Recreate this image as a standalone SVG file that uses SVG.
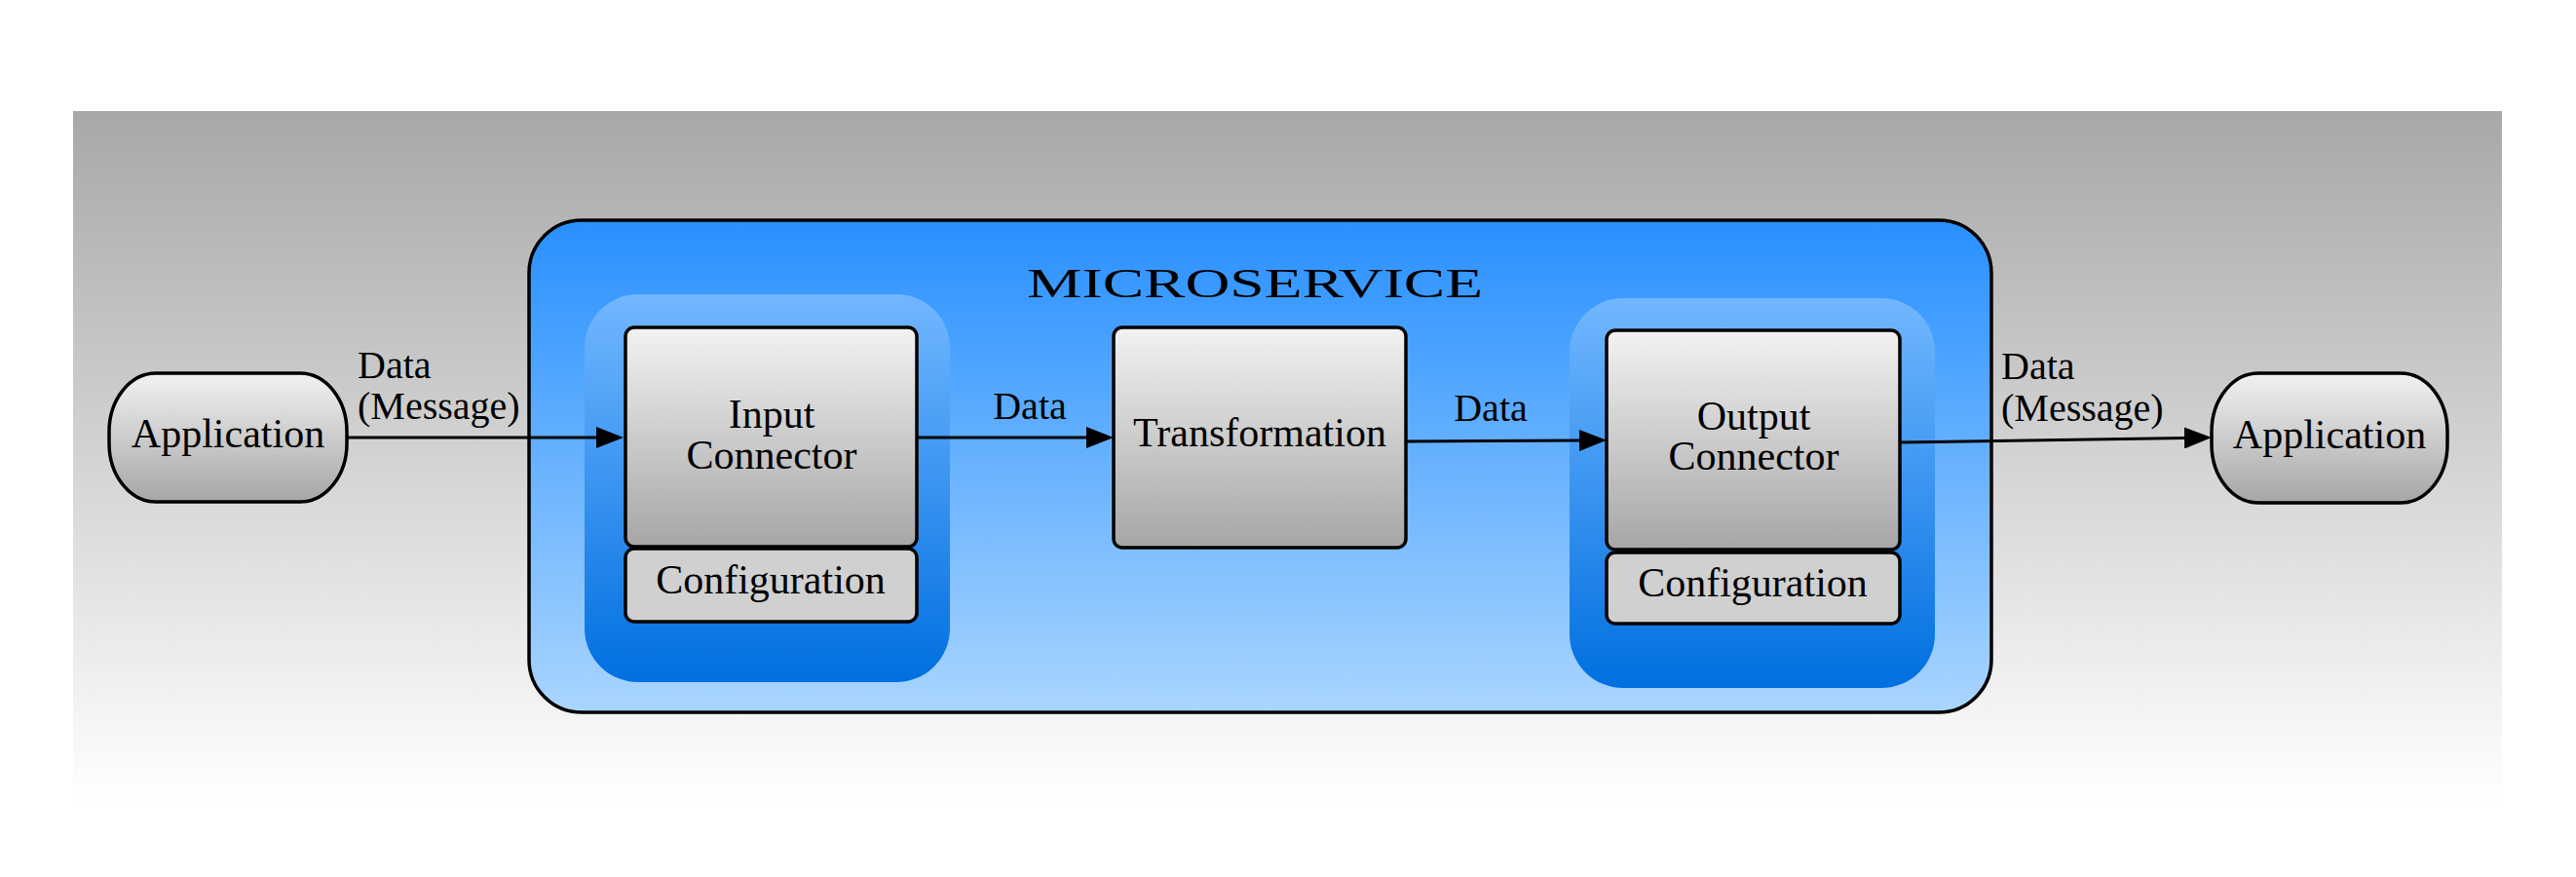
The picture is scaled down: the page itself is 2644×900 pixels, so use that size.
<svg xmlns="http://www.w3.org/2000/svg" width="2644" height="900" viewBox="0 0 2644 900">
  <defs>
    <linearGradient id="bgGrad" x1="0" y1="0" x2="0" y2="1">
      <stop offset="0" stop-color="#a8a8a8"/>
      <stop offset="1" stop-color="#ffffff"/>
    </linearGradient>
    <linearGradient id="msGrad" x1="0" y1="0" x2="0" y2="1">
      <stop offset="0" stop-color="#2890ff"/>
      <stop offset="1" stop-color="#aad5ff"/>
    </linearGradient>
    <linearGradient id="contGrad" x1="0" y1="0" x2="0" y2="1">
      <stop offset="0" stop-color="#72b7ff"/>
      <stop offset="1" stop-color="#006fe0"/>
    </linearGradient>
    <linearGradient id="nodeGrad" x1="0" y1="0" x2="0" y2="1">
      <stop offset="0" stop-color="#f2f2f2"/>
      <stop offset="1" stop-color="#a6a6a6"/>
    </linearGradient>
    <marker id="arrow" viewBox="0 0 28 22" markerWidth="28" markerHeight="22" markerUnits="userSpaceOnUse" refX="0" refY="11" orient="auto">
      <path d="M0,0 L28,11 L0,22 z" fill="#000"/>
    </marker>
  </defs>
  <style>
    .node { fill: url(#nodeGrad); stroke: #000; stroke-width: 3.5; }
    .cfg { fill: #d0d0d0; stroke: #000; stroke-width: 3.5; }
    .cont { fill: url(#contGrad); }
    .lbl { font-family: "Liberation Serif", "Times New Roman", serif; font-size: 42px; fill: #000; text-anchor: middle; }
    .elbl { font-family: "Liberation Serif", "Times New Roman", serif; font-size: 40px; fill: #000; }
    .edge { stroke: #000; stroke-width: 3; fill: none; marker-end: url(#arrow); }
  </style>

  <rect id="background" x="75" y="114" width="2493" height="710" fill="url(#bgGrad)"/>

  <g id="microservice">
    <rect x="543" y="226" width="1501" height="505" rx="54" ry="54" fill="url(#msGrad)" stroke="#000" stroke-width="3.5"/>
    <text class="lbl" x="1288" y="305" font-size="59" textLength="468" lengthAdjust="spacingAndGlyphs">MICROSERVICE</text>
  </g>

  <g id="input-container">
    <rect class="cont" x="600" y="302" width="375" height="398" rx="55" ry="55"/>
  </g>
  <g id="output-container">
    <rect class="cont" x="1611" y="306" width="375" height="400" rx="55" ry="55"/>
  </g>

  <g id="app-left">
    <rect class="node" x="112" y="383" width="244" height="132" rx="48" ry="60"/>
    <text class="lbl" x="234" y="459">Application</text>
  </g>

  <g id="input-connector">
    <rect class="node" x="642" y="336" width="299" height="225" rx="9" ry="9"/>
    <text class="lbl" x="792" y="439">Input</text>
    <text class="lbl" x="792" y="481">Connector</text>
  </g>
  <g id="input-config">
    <rect class="cfg" x="642" y="563" width="299" height="75" rx="9" ry="9"/>
    <text class="lbl" x="791" y="609">Configuration</text>
  </g>

  <g id="transformation">
    <rect class="node" x="1143" y="336" width="300" height="226" rx="9" ry="9"/>
    <text class="lbl" x="1293" y="458">Transformation</text>
  </g>

  <g id="output-connector">
    <rect class="node" x="1649" y="339" width="301" height="225" rx="9" ry="9"/>
    <text class="lbl" x="1800" y="441">Output</text>
    <text class="lbl" x="1800" y="482">Connector</text>
  </g>
  <g id="output-config">
    <rect class="cfg" x="1649" y="567" width="301" height="73" rx="9" ry="9"/>
    <text class="lbl" x="1799" y="612">Configuration</text>
  </g>

  <g id="app-right">
    <rect class="node" x="2270" y="383" width="242" height="133" rx="48" ry="60"/>
    <text class="lbl" x="2391" y="460">Application</text>
  </g>

  <g id="connectors">
    <line class="edge" x1="356" y1="449" x2="612" y2="449"/>
    <line class="edge" x1="941" y1="449" x2="1115" y2="449"/>
    <line class="edge" x1="1443" y1="453" x2="1621" y2="452"/>
    <line class="edge" x1="1950" y1="454" x2="2242" y2="449.5"/>
    <text class="elbl" x="367" y="388">Data</text>
    <text class="elbl" x="367" y="430">(Message)</text>
    <text class="elbl" x="1057" y="430" text-anchor="middle">Data</text>
    <text class="elbl" x="1530" y="432" text-anchor="middle">Data</text>
    <text class="elbl" x="2054" y="389">Data</text>
    <text class="elbl" x="2054" y="432">(Message)</text>
  </g>
</svg>
